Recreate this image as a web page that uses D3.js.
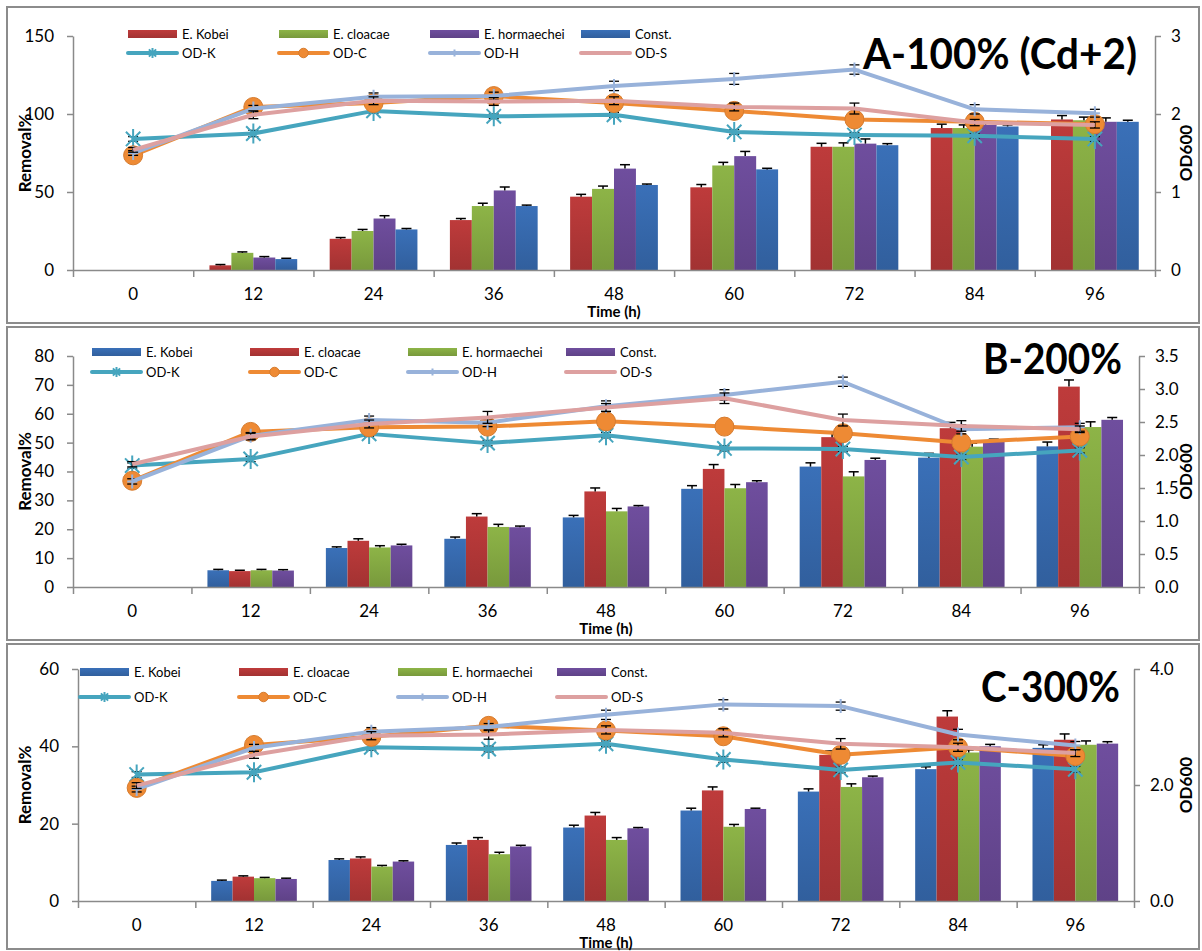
<!DOCTYPE html>
<html>
<head>
<meta charset="utf-8">
<script src="https://cdn.jsdelivr.net/npm/d3@7"></script>
<style>
  body { margin: 0; background: #fff; }
  svg text { font-family: Lato, "Liberation Sans", sans-serif; }
</style>
</head>
<body>
<div id="chart"></div>
<script>
// categories / labels
const timeLabels = ["0", "12", "24", "36", "48", "60", "72", "84", "96"];
const strainNames = ["E. Kobei", "E. cloacae", "E. hormaechei", "Const."];
const odNames = ["OD-K", "OD-C", "OD-H", "OD-S"];
const panelTitles = ["A-100% (Cd+2)", "B-200%", "C-300%"];

// tick labels
const leftTicksA = [0, 50, 100, 150];
const rightTicksA = [0, 1, 2, 3];
const leftTicksB = [0, 10, 20, 30, 40, 50, 60, 70, 80];
const rightTicksB = [0, 0.5, 1, 1.5, 2, 2.5, 3, 3.5];
const leftTicksC = [0, 20, 40, 60];
const rightTicksC = [0, 2, 4];

// A - 100% : removal % (rows = strains), error, OD600 (rows = OD-K, C, H, S), error
const removalA = [
  [0, 3, 20, 32, 47, 53, 79, 91, 96.5],
  [0, 11, 25, 41, 52, 67, 79, 91, 96],
  [0, 8, 33, 51, 65, 73, 81, 93, 95],
  [0, 7, 26, 41, 54.5, 64.5, 80, 92, 95]
];
const removalErrA = [
  [0, 0.5, 0.8, 1, 1.5, 1.8, 2.2, 2.5, 2.5],
  [0, 0.6, 1, 1.8, 1.8, 2, 2.5, 2, 2],
  [0, 0.6, 1.8, 2.2, 2.5, 3, 3, 2, 2.5],
  [0, 0.5, 0.6, 0.6, 0.6, 0.7, 1, 1, 1]
];
const odA = [
  [1.68, 1.75, 2.04, 1.97, 1.99, 1.77, 1.73, 1.72, 1.68],
  [1.47, 2.09, 2.14, 2.23, 2.14, 2.04, 1.93, 1.90, 1.87],
  [1.50, 2.07, 2.22, 2.23, 2.36, 2.45, 2.57, 2.06, 2.01],
  [1.54, 1.99, 2.17, 2.16, 2.17, 2.09, 2.07, 1.89, 1.86]
];
const odErrA = [
  [0.03, 0.04, 0.03, 0.03, 0.03, 0.03, 0.03, 0.03, 0.03],
  [0.03, 0.04, 0.05, 0.06, 0.05, 0.05, 0.04, 0.04, 0.04],
  [0.03, 0.04, 0.05, 0.05, 0.06, 0.07, 0.06, 0.06, 0.05],
  [0.03, 0.05, 0.05, 0.05, 0.05, 0.05, 0.07, 0.04, 0.04]
];

// B - 200%
const removalB = [
  [0, 5.8, 13.5, 16.7, 24.1, 34.0, 41.7, 44.8, 48.7],
  [0, 5.5, 16, 24.4, 33.1, 40.9, 51.9, 55, 69.4],
  [0, 5.8, 13.7, 20.8, 26.2, 34.2, 38.3, 48.6, 55.4],
  [0, 5.7, 14.4, 20.7, 27.9, 36.3, 44, 50.4, 57.9]
];
const removalErrB = [
  [0, 0.3, 0.4, 0.6, 0.7, 1.1, 1.3, 1.5, 1.5],
  [0, 0.3, 0.7, 1, 1.2, 1.5, 1.8, 2, 2.3],
  [0, 0.3, 0.6, 0.9, 1, 1.3, 1.6, 1.2, 1.8],
  [0, 0.3, 0.4, 0.4, 0.3, 0.5, 0.6, 0.8, 0.8]
];
const odB = [
  [1.84, 1.94, 2.32, 2.18, 2.30, 2.10, 2.09, 1.97, 2.07],
  [1.61, 2.35, 2.42, 2.43, 2.51, 2.43, 2.33, 2.19, 2.28],
  [1.60, 2.29, 2.53, 2.49, 2.74, 2.91, 3.11, 2.39, 2.42],
  [1.86, 2.28, 2.47, 2.57, 2.72, 2.86, 2.53, 2.44, 2.39]
];
const odErrB = [
  [0.04, 0.04, 0.04, 0.04, 0.04, 0.04, 0.04, 0.04, 0.04],
  [0.04, 0.05, 0.06, 0.06, 0.05, 0.05, 0.05, 0.05, 0.05],
  [0.04, 0.05, 0.06, 0.06, 0.08, 0.08, 0.07, 0.07, 0.06],
  [0.04, 0.05, 0.06, 0.09, 0.06, 0.08, 0.09, 0.08, 0.05]
];

// C - 300%
const removalC = [
  [0, 5.2, 10.6, 14.5, 19.0, 23.4, 28.3, 34.1, 39.6],
  [0, 6.3, 11.0, 15.8, 22.1, 28.6, 37.8, 47.7, 41.7],
  [0, 5.9, 8.9, 12.1, 15.8, 19.2, 29.5, 38.4, 40.4],
  [0, 5.7, 10.2, 14.1, 18.8, 23.8, 32.0, 40.0, 40.7]
];
const removalErrC = [
  [0, 0.2, 0.3, 0.5, 0.6, 0.6, 0.7, 0.6, 0.8],
  [0, 0.2, 0.4, 0.6, 0.8, 0.9, 1, 1.5, 1.5],
  [0, 0.2, 0.3, 0.5, 0.6, 0.6, 0.8, 0.7, 1],
  [0, 0.2, 0.2, 0.3, 0.2, 0.2, 0.3, 0.5, 0.5]
];
const odC = [
  [2.18, 2.22, 2.65, 2.62, 2.71, 2.44, 2.26, 2.39, 2.27],
  [1.95, 2.69, 2.83, 3.02, 2.94, 2.84, 2.52, 2.65, 2.50],
  [1.93, 2.64, 2.92, 3.00, 3.21, 3.39, 3.36, 2.87, 2.68],
  [1.99, 2.52, 2.85, 2.87, 2.95, 2.90, 2.71, 2.65, 2.55]
];
const odErrC = [
  [0.05, 0.05, 0.05, 0.05, 0.05, 0.05, 0.05, 0.05, 0.05],
  [0.05, 0.06, 0.06, 0.07, 0.06, 0.06, 0.07, 0.06, 0.06],
  [0.05, 0.06, 0.07, 0.06, 0.08, 0.08, 0.07, 0.09, 0.07],
  [0.05, 0.06, 0.07, 0.08, 0.07, 0.07, 0.09, 0.07, 0.06]
];

// colours
const red = "#BE3B3B", green = "#8DB447", purple = "#6F4E9E", blue = "#3A70B8";
const lineColors = ["#46A5BE", "#EE8A34", "#98B2DA", "#DDA0A0"];
const axisGrey = "#8a8a8a";
const font = "Lato, 'Liberation Sans', sans-serif";

var W = 1202, H = 951;
var svg = d3.select("#chart").append("svg").attr("width", W).attr("height", H);
var defs = svg.append("defs");

[red, green, purple, blue].forEach(function(c, i) {
  var grad = defs.append("linearGradient").attr("id", "bar" + i)
    .attr("x1", 0).attr("y1", 0).attr("x2", 0).attr("y2", 1);
  grad.append("stop").attr("offset", "0%").attr("stop-color", c);
  grad.append("stop").attr("offset", "100%").attr("stop-color", d3.color(c).darker(0.45));
});
function barFill(c) { return "url(#bar" + [red, green, purple, blue].indexOf(c) + ")"; }

var panels = [
  { title: panelTitles[0], removal: removalA, removalErr: removalErrA, od: odA, odErr: odErrA,
    colors: [red, green, purple, blue], leftTicks: leftTicksA, rightTicks: rightTicksA, rightFmt: d3.format("d"),
    frame: [7, 7, 1192, 316], plot: { l: 73, r: 1155, t: 36, b: 270 },
    legend: { x: 128, dx: 151, y1: 34, y2: 53 }, titlePos: { x: 1137, y: 69, w: 274 } },
  { title: panelTitles[1], removal: removalB, removalErr: removalErrB, od: odB, odErr: odErrB,
    colors: [blue, red, green, purple], leftTicks: leftTicksB, rightTicks: rightTicksB, rightFmt: d3.format(".1f"),
    frame: [7, 327, 1192, 313], plot: { l: 73, r: 1139, t: 356, b: 587 },
    legend: { x: 92, dx: 158, y1: 352, y2: 372 }, titlePos: { x: 1122, y: 374, w: 139 } },
  { title: panelTitles[2], removal: removalC, removalErr: removalErrC, od: odC, odErr: odErrC,
    colors: [blue, red, green, purple], leftTicks: leftTicksC, rightTicks: rightTicksC, rightFmt: d3.format(".1f"),
    frame: [7, 644, 1192, 305], plot: { l: 78, r: 1134, t: 669, b: 901 },
    legend: { x: 80, dx: 159, y1: 672, y2: 697 }, titlePos: { x: 1120, y: 702, w: 139 } }
];

function drawMarker(g, k, cx, cy, s) {
  var c = lineColors[k];
  if (k === 0) {
    var r = 10 * s, q = r * 0.72;
    g.append("path")
      .attr("d", "M" + cx + "," + (cy - r) + "V" + (cy + r) +
        "M" + (cx - q) + "," + (cy - q) + "L" + (cx + q) + "," + (cy + q) +
        "M" + (cx - q) + "," + (cy + q) + "L" + (cx + q) + "," + (cy - q))
      .attr("stroke", c).attr("stroke-width", 2).attr("fill", "none");
  } else if (k === 1) {
    g.append("circle").attr("cx", cx).attr("cy", cy).attr("r", 9.5 * s)
      .attr("fill", c).attr("stroke", d3.color(c).darker(0.3)).attr("stroke-width", 1);
  } else if (k === 2) {
    g.append("path")
      .attr("d", "M" + cx + "," + (cy - 7 * s) + "V" + (cy + 7 * s) + "M" + (cx - 5 * s) + "," + cy + "H" + (cx + 5 * s))
      .attr("stroke", c).attr("stroke-width", 2).attr("fill", "none");
  }
}

function styleAxis(a) {
  a.attr("font-family", font).attr("font-size", 17);
  a.select(".domain").attr("stroke", axisGrey).attr("stroke-width", 1.5);
  a.selectAll(".tick line").attr("stroke", axisGrey).attr("stroke-width", 1.5);
  a.selectAll(".tick text").attr("fill", "#000");
}

panels.forEach(function(p) {
  var g = svg.append("g");
  var pl = p.plot;

  g.append("rect").attr("x", p.frame[0]).attr("y", p.frame[1])
    .attr("width", p.frame[2]).attr("height", p.frame[3])
    .attr("fill", "#fff").attr("stroke", "#8c8c8c").attr("stroke-width", 2);

  var x = d3.scaleBand().domain(timeLabels).range([pl.l, pl.r]);
  var xs = d3.scaleBand().domain(d3.range(strainNames.length))
    .range([x.bandwidth() * 0.135, x.bandwidth() * 0.865]);
  var yL = d3.scaleLinear().domain([0, d3.max(p.leftTicks)]).range([pl.b, pl.t]);
  var yR = d3.scaleLinear().domain([0, d3.max(p.rightTicks)]).range([pl.b, pl.t]);

  // bars
  p.removal.forEach(function(vals, si) {
    var data = vals.map(function(v, i) { return { t: timeLabels[i], v: v, e: p.removalErr[si][i] }; });
    g.selectAll(null).data(data).enter().append("rect")
      .attr("x", function(d) { return x(d.t) + xs(si); })
      .attr("y", function(d) { return yL(d.v); })
      .attr("width", xs.bandwidth())
      .attr("height", function(d) { return yL(0) - yL(d.v); })
      .attr("fill", barFill(p.colors[si]));
    var eg = g.append("g").attr("stroke", "#000").attr("stroke-width", 1.5);
    data.filter(function(d) { return d.v > 0; }).forEach(function(d) {
      var cx = x(d.t) + xs(si) + xs.bandwidth() / 2;
      eg.append("line").attr("x1", cx).attr("x2", cx).attr("y1", yL(d.v)).attr("y2", yL(d.v + d.e));
      eg.append("line").attr("x1", cx - 5).attr("x2", cx + 5).attr("y1", yL(d.v + d.e)).attr("y2", yL(d.v + d.e));
    });
  });

  // left axis
  g.append("g").attr("transform", "translate(" + pl.l + ",0)")
    .call(d3.axisLeft(yL).tickValues(p.leftTicks).tickSize(6).tickPadding(13).tickSizeOuter(0))
    .call(styleAxis);

  // right axis
  g.append("g").attr("transform", "translate(" + pl.r + ",0)")
    .call(d3.axisRight(yR).tickValues(p.rightTicks).tickFormat(p.rightFmt).tickSize(6).tickPadding(10).tickSizeOuter(0))
    .call(styleAxis);

  // bottom axis: ticks between categories, labels at centres
  var xb = d3.scaleLinear().domain([0, timeLabels.length]).range([pl.l, pl.r]);
  g.append("g").attr("transform", "translate(0," + pl.b + ")")
    .call(d3.axisBottom(xb).tickValues(d3.range(timeLabels.length + 1)).tickFormat("").tickSize(7).tickSizeOuter(0))
    .call(styleAxis);
  g.append("g").attr("transform", "translate(0," + pl.b + ")")
    .call(d3.axisBottom(x).tickSize(0).tickPadding(18))
    .call(styleAxis)
    .call(function(a) { a.select(".domain").remove(); });

  // OD lines: error bars under the line, markers on top
  var cxOf = function(i) { return x(timeLabels[i]) + x.bandwidth() / 2; };
  var line = d3.line()
    .x(function(d, i) { return cxOf(i); })
    .y(function(d) { return yR(d); });
  p.od.forEach(function(vals, k) {
    var lg = g.append("g");
    var eg = lg.append("g").attr("stroke", "#000").attr("stroke-width", 1.3);
    vals.forEach(function(v, i) {
      var cx = cxOf(i), e = p.odErr[k][i];
      eg.append("line").attr("x1", cx).attr("x2", cx).attr("y1", yR(v - e)).attr("y2", yR(v + e));
      eg.append("line").attr("x1", cx - 5).attr("x2", cx + 5).attr("y1", yR(v + e)).attr("y2", yR(v + e));
      eg.append("line").attr("x1", cx - 5).attr("x2", cx + 5).attr("y1", yR(v - e)).attr("y2", yR(v - e));
    });
    lg.append("path").datum(vals).attr("d", line)
      .attr("fill", "none").attr("stroke", lineColors[k]).attr("stroke-width", 4)
      .attr("stroke-linejoin", "round");
    vals.forEach(function(v, i) { drawMarker(lg, k, cxOf(i), yR(v), 1); });
  });

  // legend
  var lgd = p.legend;
  strainNames.forEach(function(n, i) {
    var lx = lgd.x + i * lgd.dx;
    g.append("rect").attr("x", lx).attr("y", lgd.y1 - 4).attr("width", 49).attr("height", 8)
      .attr("fill", barFill(p.colors[i]));
    g.append("text").attr("x", lx + 54).attr("y", lgd.y1).attr("dy", "0.35em")
      .attr("font-size", 13).text(n);
  });
  odNames.forEach(function(n, k) {
    var lx = lgd.x + k * lgd.dx;
    g.append("line").attr("x1", lx).attr("x2", lx + 49).attr("y1", lgd.y2).attr("y2", lgd.y2)
      .attr("stroke", lineColors[k]).attr("stroke-width", 4).attr("stroke-linecap", "round");
    drawMarker(g, k, lx + 24.5, lgd.y2, 0.5);
    g.append("text").attr("x", lx + 54).attr("y", lgd.y2).attr("dy", "0.35em")
      .attr("font-size", 13).text(n);
  });

  // axis titles
  var midY = (pl.t + pl.b) / 2;
  g.append("text").attr("transform", "translate(31," + midY + ") rotate(-90)")
    .attr("text-anchor", "middle").attr("font-size", 17).attr("font-weight", "bold").text("Removal%");
  g.append("text").attr("transform", "translate(1192," + midY + ") rotate(-90)")
    .attr("text-anchor", "middle").attr("font-size", 17).attr("font-weight", "bold").text("OD600");
  g.append("text").attr("x", (pl.l + pl.r) / 2).attr("y", pl.b + 47)
    .attr("text-anchor", "middle").attr("font-size", 15).attr("font-weight", "bold").text("Time (h)");

  // panel title
  g.append("text").attr("x", p.titlePos.x).attr("y", p.titlePos.y)
    .attr("text-anchor", "end").attr("font-size", 42).attr("font-weight", "bold")
    .attr("textLength", p.titlePos.w).attr("lengthAdjust", "spacingAndGlyphs")
    .text(p.title);
});
</script>
</body>
</html>
